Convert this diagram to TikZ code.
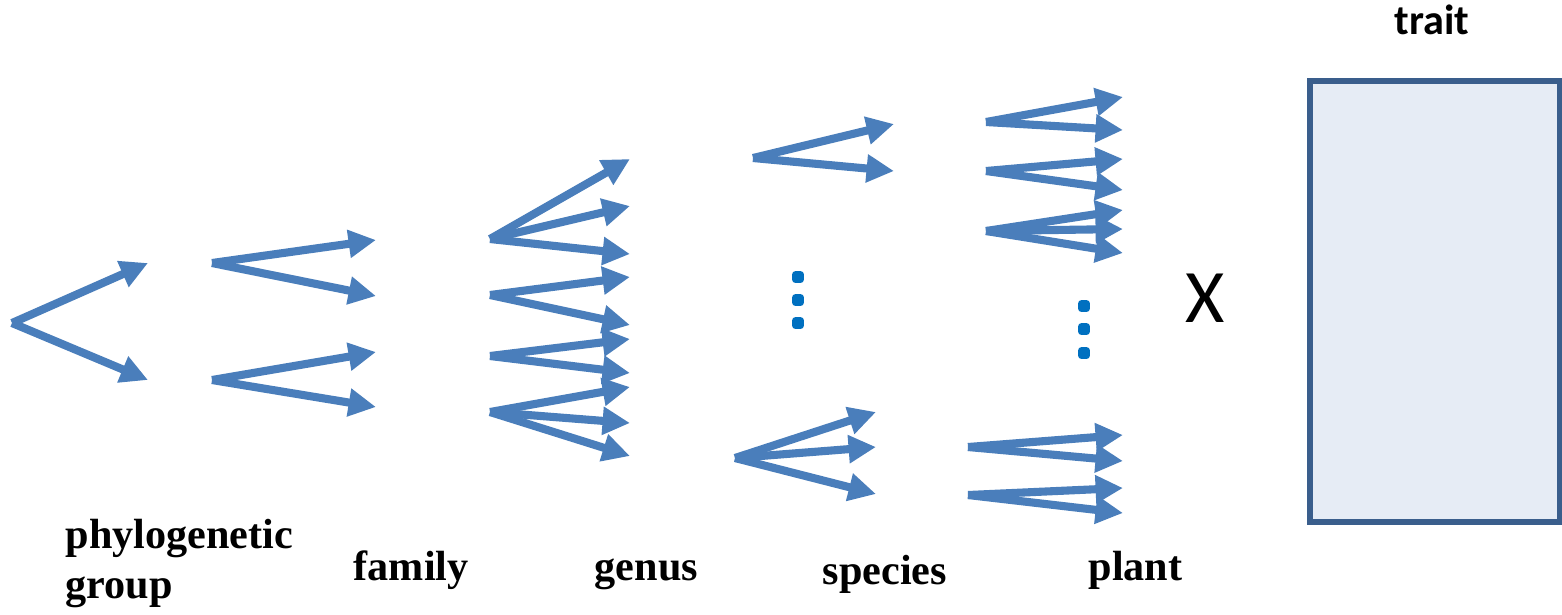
\documentclass[tikz,border=0pt]{standalone}
\usepackage{fontspec}
\setmainfont{Liberation Serif}
\newfontfamily\calib{Carlito}
\usetikzlibrary{arrows.meta}
\definecolor{arrc}{HTML}{4A7EBB}
\definecolor{dotc}{HTML}{0070C0}
\definecolor{boxline}{HTML}{3A5E8C}
\definecolor{boxfill}{HTML}{E6ECF5}
\tikzset{
  arr/.style={draw=arrc, line width=2.3pt, -{Triangle[length=7.8pt,width=7.6pt]}, fill=arrc},
  vdot/.style={rectangle, rounded corners=1pt, fill=dotc, minimum size=3.4pt, inner sep=0pt},
  lbl/.style={font=\fontsize{12}{14}\selectfont\bfseries, anchor=base west, inner sep=0pt, align=left},
}
\begin{document}
\begin{tikzpicture}[x=0.01cm, y=-0.01cm]
\useasboundingbox (0,0) rectangle (1562,614);
% phylogenetic group
\coordinate (p0) at (12,323);
\coordinate (p1) at (148,263);
\coordinate (p2) at (148,380);
\draw[arr] (p0) -- (p1);
\draw[arr] (p0) -- (p2);
% family
\coordinate (f1) at (212,263);
\coordinate (f1a) at (376,240);
\coordinate (f1b) at (376,296);
\coordinate (f2) at (212,380);
\coordinate (f2a) at (376,352);
\coordinate (f2b) at (376,407);
\foreach \s/\t in {f1/f1a,f1/f1b,f2/f2a,f2/f2b} \draw[arr] (\s) -- (\t);
% genus
\coordinate (g1) at (490,239);
\coordinate (g1a) at (630,159);
\coordinate (g1b) at (630,206);
\coordinate (g1c) at (630,254);
\coordinate (g2) at (490,295);
\coordinate (g2a) at (630,277);
\coordinate (g2b) at (630,325);
\coordinate (g3) at (490,356);
\coordinate (g3a) at (630,339);
\coordinate (g3b) at (630,373);
\coordinate (g4) at (490,412);
\coordinate (g4a) at (630,387);
\coordinate (g4b) at (630,423);
\coordinate (g4c) at (630,456);
\foreach \s/\t in {g1/g1a,g1/g1b,g1/g1c,g2/g2a,g2/g2b,g3/g3a,g3/g3b,g4/g4a,g4/g4b,g4/g4c} \draw[arr] (\s) -- (\t);
% species
\coordinate (s1) at (753,158);
\coordinate (s1a) at (894,124);
\coordinate (s1b) at (894,171);
\coordinate (s2) at (735,458);
\coordinate (s2a) at (876,412);
\coordinate (s2b) at (876,447);
\coordinate (s2c) at (876,494);
\foreach \s/\t in {s1/s1a,s1/s1b,s2/s2a,s2/s2b,s2/s2c} \draw[arr] (\s) -- (\t);
% plant
\coordinate (t1) at (986,122);
\coordinate (t1a) at (1123,97);
\coordinate (t1b) at (1123,130);
\coordinate (t2) at (986,171);
\coordinate (t2a) at (1123,159);
\coordinate (t2b) at (1123,190);
\coordinate (t3) at (986,231);
\coordinate (t3a) at (1123,210);
\coordinate (t3b) at (1123,229);
\coordinate (t3c) at (1123,253);
\coordinate (t4) at (968,447);
\coordinate (t4a) at (1123,435);
\coordinate (t4b) at (1123,461);
\coordinate (t5) at (968,495);
\coordinate (t5a) at (1123,488);
\coordinate (t5b) at (1123,513);
\foreach \s/\t in {t1/t1a,t1/t1b,t2/t2a,t2/t2b,t3/t3a,t3/t3b,t3/t3c,t4/t4a,t4/t4b,t5/t5a,t5/t5b} \draw[arr] (\s) -- (\t);
% vertical dots
\node[vdot] (d1) at (798,277) {};
\node[vdot] (d2) at (798,300) {};
\node[vdot] (d3) at (798,323) {};
\node[vdot] (e1) at (1084,306) {};
\node[vdot] (e2) at (1084,329) {};
\node[vdot] (e3) at (1084,353) {};
% X
\node[font=\calib\fontsize{21.5}{24}\selectfont, inner sep=0pt] (x) at (1205,298) {X};
% trait box
\draw[draw=boxline, fill=boxfill, line width=1.5pt] (1310,81) rectangle (1560,522);
\node[font=\calib\fontsize{12}{14}\selectfont\bfseries, anchor=base, inner sep=0pt] (trait) at (1432,34) {trait};
% labels
\node[lbl] (lphy) at (65,598) {phylogenetic\\group};
\node[lbl] (lfam) at (353,580) {family};
\node[lbl] (lgen) at (594,580) {genus};
\node[lbl] (lspe) at (822,584) {species};
\node[lbl] (lpla) at (1088,580) {plant};
\end{tikzpicture}
\end{document}
